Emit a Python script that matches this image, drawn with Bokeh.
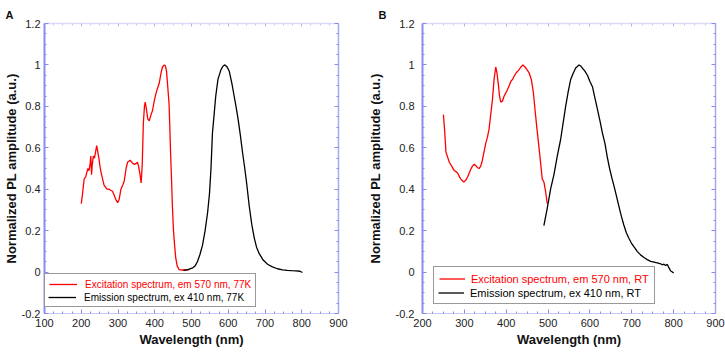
from bokeh.plotting import figure
from bokeh.layouts import row
from bokeh.models import LinearAxis, FixedTicker, Legend, LegendItem, Title
from bokeh.embed import file_html
from bokeh.resources import INLINE

# ---------------- data ----------------
# Panel A (77 K)
a_exc_wl = [200, 203, 206, 208, 212, 215, 218, 221, 224, 226, 228, 230, 233, 236, 239, 242, 245, 248,
            251, 254, 258, 262, 266, 270, 276, 280, 285, 290, 294, 299, 303, 308, 313, 317, 322, 326,
            333, 340, 345, 350, 353, 356, 360, 363, 366, 369, 372, 374, 377, 381, 385, 390, 394, 399,
            403, 408, 412, 417, 421, 426, 429, 432, 436, 439, 441, 443, 446, 448, 451, 454, 457, 461,
            466, 475, 485, 494]
a_exc_val = [0.33, 0.37, 0.42, 0.45, 0.46, 0.48, 0.50, 0.49, 0.52, 0.56, 0.47, 0.52, 0.56, 0.55, 0.58,
             0.61, 0.58, 0.55, 0.51, 0.48, 0.45, 0.42, 0.41, 0.40, 0.40, 0.395, 0.39, 0.37, 0.35, 0.335,
             0.35, 0.40, 0.42, 0.44, 0.50, 0.53, 0.54, 0.525, 0.52, 0.525, 0.53, 0.51, 0.47, 0.43, 0.52,
             0.72, 0.80, 0.82, 0.79, 0.74, 0.73, 0.76, 0.78, 0.83, 0.86, 0.89, 0.91, 0.96, 0.99, 1.0,
             0.995, 0.97, 0.88, 0.81, 0.70, 0.58, 0.43, 0.32, 0.20, 0.13, 0.07, 0.03, 0.012, 0.01, 0.01,
             0.012]
a_em_wl = [478, 490, 503, 510, 516, 523, 530, 537, 544, 549, 553, 557, 562, 566, 572, 580, 586, 591,
           597, 603, 610, 616, 622, 627, 633, 639, 645, 650, 657, 664, 671, 677, 684, 695, 707, 720,
           734, 748, 761, 772, 784, 795, 802]
a_em_val = [0.008, 0.012, 0.02, 0.03, 0.05, 0.085, 0.13, 0.20, 0.29, 0.38, 0.50, 0.67, 0.77, 0.85, 0.93,
            0.976, 0.995, 1.0, 0.99, 0.968, 0.91, 0.85, 0.79, 0.736, 0.66, 0.576, 0.50, 0.43, 0.32, 0.23,
            0.163, 0.12, 0.09, 0.058, 0.038, 0.025, 0.016, 0.011, 0.008, 0.007, 0.006, 0.004, -0.002]

# Panel B (room temperature)
b_exc_wl = [250, 253, 256, 260, 264, 270, 276, 280, 283, 286, 291, 296, 299, 304, 308, 311, 315, 319,
            323, 327, 331, 335, 339, 343, 347, 351, 355, 359, 363, 367, 371, 375, 378, 381, 384, 387,
            391, 395, 399, 403, 407, 411, 415, 420, 425, 430, 435, 440, 445, 450, 455, 460, 465, 469,
            473, 477, 481, 486, 490, 494, 498]
b_exc_val = [0.76, 0.68, 0.58, 0.555, 0.53, 0.51, 0.49, 0.485, 0.48, 0.47, 0.45, 0.44, 0.435, 0.445,
             0.46, 0.475, 0.495, 0.51, 0.52, 0.515, 0.505, 0.50, 0.51, 0.54, 0.58, 0.62, 0.65, 0.69,
             0.76, 0.83, 0.93, 0.99, 0.96, 0.91, 0.85, 0.82, 0.825, 0.85, 0.865, 0.88, 0.90, 0.92, 0.93,
             0.95, 0.965, 0.975, 0.99, 1.0, 0.99, 0.976, 0.96, 0.93, 0.865, 0.78, 0.70, 0.626, 0.55,
             0.45, 0.435, 0.39, 0.33]
b_em_wl = [490, 498, 506, 514, 522, 530, 536, 542, 548, 554, 560, 566, 574, 578, 582, 588, 594, 600,
           606, 612, 618, 624, 630, 636, 641, 647, 653, 657, 663, 669, 675, 681, 687, 693, 699, 705,
           713, 721, 729, 737, 745, 753, 761, 769, 773, 777, 781, 785, 789, 793, 796, 800]
b_em_val = [0.224, 0.307, 0.40, 0.47, 0.56, 0.64, 0.72, 0.80, 0.87, 0.93, 0.96, 0.985, 1.0, 0.995,
            0.985, 0.97, 0.95, 0.92, 0.895, 0.84, 0.785, 0.73, 0.67, 0.62, 0.56, 0.50, 0.45, 0.42,
            0.37, 0.32, 0.27, 0.227, 0.19, 0.163, 0.14, 0.123, 0.10, 0.083, 0.07, 0.06, 0.052, 0.048,
            0.044, 0.04, 0.035, 0.038, 0.032, 0.037, 0.02, 0.005, 0.002, -0.005]

y_ticks = [-0.2, 0, 0.2, 0.4, 0.6, 0.8, 1.0, 1.2]
y_tick_labels = ["-0.2", "0", "0.2", "0.4", "0.6", "0.8", "1", "1.2"]
a_x_ticks = [100, 200, 300, 400, 500, 600, 700, 800, 900]
b_x_ticks = [200, 300, 400, 500, 600, 700, 800, 900]

a_labels = ["Excitation spectrum, em 570 nm, 77K", "Emission spectrum, ex 410 nm, 77K"]
b_labels = ["Excitation spectrum, em 570 nm, RT", "Emission spectrum, ex 410 nm, RT"]
panel_names = ["A", "B"]

x_title = "Wavelength (nm)"
y_title = "Normalized PL amplitude (a.u.)"

FONT = "Liberation Sans"
RED = "#ff0000"
BLACK = "#000000"
TICK = "#8a8aee"


def tick_only_axis(positions, length, line_color, line_alpha, tick_color):
    return LinearAxis(ticker=FixedTicker(ticks=[], minor_ticks=positions),
                      axis_line_color=line_color, axis_line_alpha=line_alpha, axis_line_width=1.5,
                      minor_tick_line_color=tick_color, minor_tick_in=length, minor_tick_out=0,
                      major_tick_in=0, major_tick_out=0, major_label_standoff=0)


def style_axes(p, xticks, ylab_standoff, ytitle_standoff):
    p.grid.visible = False
    p.outline_line_alpha = 0
    p.background_fill_color = "white"
    p.border_fill_color = "white"
    x_minor = [t + d for t in xticks[:-1] for d in (25, 50, 75)]
    y_minor = [round(t + d, 3) for t in y_ticks[:-1] for d in (0.05, 0.1, 0.15)]
    xa = p.xaxis[0]
    xa.ticker = FixedTicker(ticks=xticks, minor_ticks=x_minor)
    xa.major_label_overrides = {v: str(v) for v in xticks}
    xa.axis_label = x_title
    ya = p.yaxis[0]
    ya.ticker = FixedTicker(ticks=y_ticks, minor_ticks=y_minor)
    ya.major_label_overrides = {v: s for v, s in zip(y_ticks, y_tick_labels)}
    ya.axis_label = y_title
    for ax in (xa, ya):
        ax.major_label_text_font = FONT
        ax.major_label_text_font_size = "11px"
        ax.major_label_text_color = "#222222"
        ax.axis_label_text_font = FONT
        ax.axis_label_text_font_style = "bold"
        ax.axis_label_text_font_size = "13px"
        ax.axis_label_text_color = "#111111"
        ax.major_tick_line_color = TICK
        ax.minor_tick_line_color = TICK
        ax.major_tick_in = 4
        ax.major_tick_out = 0
        ax.minor_tick_in = 2
        ax.minor_tick_out = 0
    xa.major_label_standoff = 5
    xa.axis_label_standoff = 2
    ya.major_label_standoff = ylab_standoff
    ya.axis_label_standoff = ytitle_standoff
    ya.axis_line_color = "#8c8cf0"
    ya.axis_line_width = 2
    xa.axis_line_color = "#c8c8f6"
    xa.axis_line_width = 1
    # right & top: ticks only (no labels)
    p.add_layout(tick_only_axis(y_ticks, 4, "#a8a8f2", 1, TICK), "right")
    p.add_layout(tick_only_axis(y_minor, 2, "#a8a8f2", 0, TICK), "right")
    p.add_layout(tick_only_axis(xticks, 3, "#dcdcf8", 1, "#b4b4f4"), "above")
    p.add_layout(tick_only_axis(x_minor, 2, "#dcdcf8", 0, "#c4c4f6"), "above")


def add_legends(p, r_exc, r_em, labels, pad, gw, gh, standoff, fs, loc):
    common = dict(margin=0, spacing=0, glyph_width=gw, glyph_height=gh, label_height=gh,
                  label_standoff=standoff, label_text_font=FONT, label_text_font_size=fs)
    # invisible stand-in so that the second row's line is drawn only once
    blank = p.line(x=[], y=[], line_alpha=0)
    leg1 = Legend(items=[LegendItem(label=labels[0], renderers=[r_exc]),
                         LegendItem(label=" ", renderers=[blank])],
                  location=loc, padding=pad, label_text_color=RED,
                  border_line_color="#333333", border_line_width=1.5,
                  background_fill_color="white", background_fill_alpha=1, **common)
    leg2 = Legend(items=[LegendItem(label=labels[1], renderers=[r_em])],
                  location=(loc[0] + pad, loc[1] + pad), padding=0, label_text_color=BLACK,
                  border_line_alpha=0, background_fill_alpha=0, **common)
    p.add_layout(leg1, "center")
    p.add_layout(leg2, "center")


def panel_title(name, offset):
    return Title(text=name, align="left", offset=offset, standoff=5,
                 text_font=FONT, text_font_style="bold", text_font_size="11px",
                 text_color="#111111", text_line_height=1.0)


H = 353
# ---------------- Panel A ----------------
pa = figure(width=360, height=H, x_range=(100, 900), y_range=(-0.2, 1.2),
            output_backend="svg", toolbar_location=None,
            title=panel_title(panel_names[0], -39),
            min_border_left=44, min_border_right=22, min_border_top=20, min_border_bottom=40)
style_axes(pa, a_x_ticks, 4, 0)
ra1 = pa.line(a_exc_wl, a_exc_val, line_color=RED, line_width=1.3)
ra2 = pa.line(a_em_wl, a_em_val, line_color=BLACK, line_width=1.3)
add_legends(pa, ra1, ra2, a_labels, 4, 28, 12, 8, "10px", (0, 6))

# ---------------- Panel B ----------------
pb = figure(width=365, height=H, x_range=(200, 900), y_range=(-0.2, 1.2),
            output_backend="svg", toolbar_location=None,
            title=panel_title(panel_names[1], -44),
            min_border_left=62, min_border_right=10, min_border_top=23, min_border_bottom=37)
style_axes(pb, b_x_ticks, 8, 10)
rb1 = pb.line(b_exc_wl, b_exc_val, line_color=RED, line_width=1.3)
rb2 = pb.line(b_em_wl, b_em_val, line_color=BLACK, line_width=1.3)
add_legends(pb, rb1, rb2, b_labels, 5, 26, 13, 6, "11px", (11, 9))

layout = row(pa, pb, spacing=0)
open("out.html", "w").write(file_html(layout, INLINE))
